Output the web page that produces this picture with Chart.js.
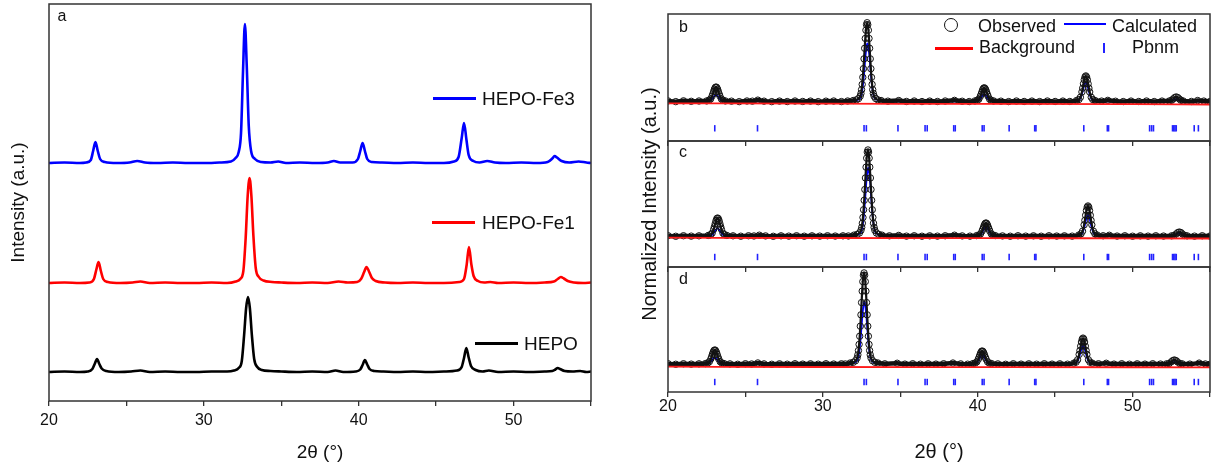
<!DOCTYPE html>
<html><head><meta charset="utf-8">
<script src="https://cdn.jsdelivr.net/npm/chart.js@4.4.1/dist/chart.umd.min.js"></script>
<style>
html,body{margin:0;padding:0;background:#fff;}
body{width:1217px;height:468px;position:relative;overflow:hidden;font-family:"Liberation Sans",Arial,sans-serif;color:#111;}
canvas{position:absolute;}
.t{position:absolute;white-space:nowrap;color:#111;}
.ln{position:absolute;}
</style></head><body>
<canvas id="ca" width="610" height="468" style="left:0px;top:0px;width:610px;height:468px"></canvas>
<canvas id="cb" width="597" height="468" style="left:620px;top:0px;width:597px;height:468px"></canvas>
<canvas id="cc" width="597" height="468" style="left:620px;top:0px;width:597px;height:468px"></canvas>
<canvas id="cd" width="597" height="468" style="left:620px;top:0px;width:597px;height:468px"></canvas>

<div class="t" style="left:57.5px;top:8px;font-size:16px;line-height:16px">a</div>
<div class="ln" style="left:433px;top:96.5px;width:43px;height:3px;background:#0000ff"></div>
<div class="t" style="left:482px;top:88.5px;font-size:19px;line-height:19px">HEPO-Fe3</div>
<div class="ln" style="left:432px;top:220.5px;width:43px;height:3px;background:#ff0000"></div>
<div class="t" style="left:482px;top:212.5px;font-size:19px;line-height:19px">HEPO-Fe1</div>
<div class="ln" style="left:475px;top:341.5px;width:43px;height:3px;background:#000"></div>
<div class="t" style="left:524px;top:333.5px;font-size:19px;line-height:19px">HEPO</div>

<div class="t" style="left:679px;top:19px;font-size:16px;line-height:16px">b</div>
<div class="t" style="left:679px;top:143.5px;font-size:16px;line-height:16px">c</div>
<div class="t" style="left:679px;top:270.5px;font-size:16px;line-height:16px">d</div>

<div class="ln" style="left:944px;top:18px;width:14px;height:14px;box-sizing:border-box;border:1.3px solid #111;border-radius:50%"></div>
<div class="t" style="left:978px;top:17px;font-size:18px;line-height:18px">Observed</div>
<div class="ln" style="left:1064px;top:23px;width:42px;height:2px;background:#0000ff"></div>
<div class="t" style="left:1112px;top:17px;font-size:18px;line-height:18px">Calculated</div>
<div class="ln" style="left:935px;top:47px;width:38px;height:2.5px;background:#ff0000"></div>
<div class="t" style="left:979px;top:37.7px;font-size:18px;line-height:18px">Background</div>
<div class="ln" style="left:1103px;top:43px;width:2px;height:10px;background:#2222ff"></div>
<div class="t" style="left:1132px;top:37.7px;font-size:18px;line-height:18px">Pbnm</div>

<script>
// ---------- data: panel a (offset intensities, a.u.) ----------
const xTicks = [20, 25, 30, 35, 40, 45, 50, 55];
const xTickLabels = ['20', '', '30', '', '40', '', '50', ''];

const hepo = [[20,29],[21,29.5],[22,29],[22.5,29.5],[22.8,32],[22.95,37],[23.1,42],[23.25,37],[23.4,32.5],[23.7,30],[24.5,29],[25.3,29.5],[25.9,30.5],[26.5,29],[27.5,29.5],[28.5,29],[29.5,29],[30.5,29.5],[31.5,29.5],[31.95,30.5],[32.25,33],[32.45,40],[32.6,66],[32.73,93],[32.85,104],[32.97,93],[33.1,66],[33.25,42],[33.45,34],[33.75,31],[34.3,30],[35,29.5],[36,29],[37,29.5],[38,29],[38.5,30.5],[39,29],[39.8,29.5],[40.1,31.5],[40.25,36],[40.4,41],[40.55,36.5],[40.7,32],[41,30],[41.6,29.5],[42.5,29],[43.5,29.5],[44.5,29],[45.5,29.5],[46.35,30.5],[46.65,34],[46.8,43],[46.95,53],[47.1,43.5],[47.25,35],[47.55,31],[48,29.5],[48.4,30.5],[49,29],[50,29.5],[51,29],[52,29.5],[52.5,30],[52.7,31.5],[52.85,33],[53,32],[53.3,30],[53.8,29.5],[54.3,30],[54.7,29],[55,29.5]];

const hepoFe1 = [[20,118],[21,118.5],[22,118],[22.6,118.5],[22.9,122],[23.05,131],[23.2,139],[23.35,130],[23.5,122],[23.8,119],[24.6,118],[25.4,118.5],[25.9,119.5],[26.5,118],[27.5,118.5],[28.5,118],[29.5,118],[30.5,118.5],[31.5,118],[32.05,119.5],[32.35,122],[32.55,130],[32.7,163],[32.83,205],[32.95,223],[33.07,205],[33.2,165],[33.35,133],[33.55,124],[33.85,120.5],[34.4,119],[35,118.5],[36,118],[37,118.5],[38,118],[38.7,119.5],[39.3,118.5],[39.9,119],[40.15,122],[40.35,129],[40.5,134],[40.65,130],[40.85,123],[41.1,120],[41.7,118.5],[42.5,118],[43.5,118.5],[44.5,118],[45.5,118],[46.5,119],[46.8,122],[46.97,136],[47.12,154],[47.27,137],[47.42,125],[47.7,120],[48.1,118.5],[48.5,119],[49,118],[50,118.5],[51,118],[52,118.5],[52.6,119.5],[52.85,122],[53.05,124],[53.25,122.5],[53.5,120],[53.9,118.5],[54.5,118],[55,118.5]];

const hepoFe3 = [[20,238],[21,238.5],[22,238],[22.4,238.5],[22.7,241],[22.85,250],[23.0,259],[23.15,250],[23.3,242],[23.6,239],[24.4,238],[25.2,238.5],[25.7,240],[26.2,238.5],[27,238],[28,238.5],[29,238],[30,238],[31,238.5],[31.75,239.5],[32.05,243],[32.25,249],[32.4,268],[32.53,330],[32.65,377],[32.77,335],[32.9,275],[33.05,250],[33.3,242],[33.7,239],[34.3,238.5],[34.8,239.5],[35.3,238],[36.2,238.5],[37.2,238],[38.0,238.5],[38.4,240],[38.8,238.5],[39.6,238.5],[39.95,242],[40.1,250],[40.25,258],[40.4,250],[40.55,242],[40.85,239],[41.5,238.5],[42.5,238],[43.5,238.5],[44.5,238],[45.5,238],[46.15,239.5],[46.45,244],[46.65,263],[46.8,278],[46.95,262],[47.1,246],[47.4,240],[47.8,238.5],[48.3,240],[48.8,238.5],[49.5,238],[50.5,238.5],[51.5,238],[52.2,239],[52.5,242.5],[52.65,245],[52.8,243.5],[53.1,240],[53.6,238.5],[54.2,239.5],[54.7,238.5],[55,238]];

// ---------- data: panels b, c, d (normalized intensity) ----------
const obsB = [[20,0.005],[20.5,-0.004],[21,0.006],[21.5,0],[22,0.004],
[22.5,0.005],[22.65,0.013],[22.75,0.029],[22.85,0.067],[22.9,0.094],[22.95,0.124],[23.0,0.153],[23.05,0.173],[23.1,0.18],[23.15,0.173],[23.2,0.153],[23.25,0.124],[23.3,0.094],[23.35,0.067],[23.45,0.029],[23.55,0.013],[23.7,0.005],
[24.1,0.002],[24.6,-0.004],[25.1,0.004],[25.45,0.002],[25.8,0.015],[26.2,0.002],[26.7,-0.004],[27.2,0.003],[27.7,-0.003],[28.2,0.004],[28.7,-0.002],[29.2,0.003],[29.7,-0.004],[30.2,0.002],[30.7,0.004],[31.2,-0.003],[31.6,0.004],
[31.96,0.01],[32.16,0.018],[32.31,0.035],[32.41,0.064],[32.46,0.099],[32.5,0.147],[32.54,0.213],[32.58,0.302],[32.62,0.411],[32.66,0.535],[32.7,0.668],[32.74,0.792],[32.78,0.896],[32.82,0.965],[32.86,0.99],[32.9,0.965],[32.94,0.896],[32.98,0.792],[33.02,0.668],[33.06,0.535],[33.1,0.411],[33.14,0.302],[33.18,0.213],[33.22,0.147],[33.26,0.099],[33.31,0.064],[33.41,0.035],[33.56,0.018],[33.76,0.01],
[34.2,0.002],[34.9,0.01],[35.4,-0.002],[35.9,0.004],[36.4,-0.003],[36.9,0.003],[37.4,-0.002],[37.9,0.004],[38.5,0.012],[39.0,0.001],[39.45,-0.003],
[39.82,0.005],[39.97,0.012],[40.07,0.027],[40.17,0.063],[40.22,0.088],[40.27,0.117],[40.32,0.145],[40.37,0.163],[40.42,0.17],[40.47,0.163],[40.52,0.145],[40.57,0.117],[40.62,0.088],[40.67,0.063],[40.77,0.027],[40.87,0.012],[41.02,0.005],
[41.5,0.002],[42.0,-0.003],[42.5,0.004],[43.0,-0.002],[43.5,0.003],[44.0,-0.003],[44.5,0.004],[45.0,-0.002],[45.5,0.003],[45.95,-0.002],
[46.38,0.01],[46.53,0.022],[46.63,0.051],[46.73,0.118],[46.78,0.166],[46.83,0.221],[46.88,0.272],[46.93,0.307],[46.98,0.32],[47.03,0.307],[47.08,0.272],[47.13,0.221],[47.18,0.166],[47.23,0.118],[47.33,0.051],[47.43,0.022],[47.58,0.01],
[48.0,0.003],[48.4,0.012],[48.9,0.001],[49.4,-0.003],[49.9,0.003],[50.4,-0.002],[50.9,0.004],[51.4,-0.003],[51.9,0.003],
[52.37,0.004],[52.52,0.013],[52.62,0.029],[52.72,0.047],[52.82,0.055],[52.92,0.047],[53.02,0.029],[53.12,0.013],[53.27,0.004],
[53.8,-0.002],[54.2,0.01],[54.6,0.003],[55,-0.002]];

const calcB = [[20,0],[22.3,0],[22.5,0.002],[22.65,0.006],[22.75,0.013],[22.85,0.03],[22.95,0.055],[23.05,0.077],[23.1,0.08],[23.15,0.077],[23.25,0.055],[23.35,0.03],[23.45,0.013],[23.55,0.006],[23.7,0.002],[24.0,0],
[31.7,0],[32.0,0.007],[32.18,0.013],[32.33,0.026],[32.43,0.047],[32.52,0.108],[32.6,0.223],[32.68,0.394],[32.76,0.584],[32.84,0.712],[32.88,0.73],[32.92,0.712],[33.0,0.584],[33.08,0.394],[33.16,0.223],[33.24,0.108],[33.33,0.047],[33.43,0.026],[33.6,0.013],[33.8,0.007],[34.2,0],
[39.6,0],[39.82,0.003],[39.97,0.006],[40.07,0.014],[40.17,0.033],[40.27,0.062],[40.37,0.086],[40.42,0.09],[40.47,0.086],[40.57,0.062],[40.67,0.033],[40.77,0.014],[40.87,0.006],[41.02,0.003],[41.3,0],
[46.1,0],[46.38,0.007],[46.53,0.017],[46.63,0.038],[46.73,0.089],[46.83,0.166],[46.93,0.23],[46.98,0.24],[47.03,0.23],[47.13,0.166],[47.23,0.089],[47.33,0.038],[47.43,0.017],[47.58,0.007],[47.9,0],
[52.2,0],[52.42,0.002],[52.57,0.011],[52.67,0.021],[52.77,0.029],[52.82,0.03],[52.87,0.029],[52.97,0.021],[53.07,0.011],[53.22,0.002],[53.5,0],[55,0]];

const bgB = [[20,-0.025],[30,-0.03],[40,-0.032],[50,-0.036],[55,-0.04]];

const obsC = [[20,-0.102],[20.5,-0.11],[21,-0.103],[21.5,-0.108],[22,-0.104],
[22.6,-0.099],[22.75,-0.09],[22.85,-0.07],[22.95,-0.022],[23.0,0.013],[23.05,0.051],[23.1,0.088],[23.15,0.113],[23.2,0.122],[23.25,0.113],[23.3,0.088],[23.35,0.051],[23.4,0.013],[23.45,-0.022],[23.55,-0.07],[23.65,-0.09],[23.8,-0.099],
[24.2,-0.104],[24.7,-0.109],[25.2,-0.103],[25.55,-0.106],[25.9,-0.096],[26.3,-0.105],[26.8,-0.11],[27.3,-0.104],[27.8,-0.108],[28.3,-0.103],[28.8,-0.109],[29.3,-0.104],[29.8,-0.108],[30.3,-0.103],[30.8,-0.107],[31.3,-0.104],[31.65,-0.106],
[32.01,-0.095],[32.21,-0.086],[32.36,-0.068],[32.46,-0.035],[32.51,0.003],[32.55,0.056],[32.59,0.129],[32.63,0.227],[32.67,0.347],[32.71,0.484],[32.75,0.631],[32.79,0.768],[32.83,0.882],[32.87,0.959],[32.91,0.986],[32.95,0.959],[32.99,0.882],[33.03,0.768],[33.07,0.631],[33.11,0.484],[33.15,0.347],[33.19,0.227],[33.23,0.129],[33.27,0.056],[33.31,0.003],[33.36,-0.035],[33.46,-0.068],[33.61,-0.086],[33.81,-0.095],
[34.3,-0.104],[34.9,-0.099],[35.4,-0.108],[35.9,-0.103],[36.4,-0.109],[36.9,-0.104],[37.4,-0.108],[37.9,-0.103],[38.5,-0.096],[39.0,-0.105],[39.5,-0.108],
[39.93,-0.101],[40.08,-0.094],[40.18,-0.08],[40.28,-0.045],[40.33,-0.02],[40.38,0.008],[40.43,0.034],[40.48,0.052],[40.53,0.059],[40.58,0.052],[40.63,0.034],[40.68,0.008],[40.73,-0.02],[40.78,-0.045],[40.88,-0.08],[40.98,-0.094],[41.13,-0.101],
[41.6,-0.105],[42.1,-0.109],[42.6,-0.103],[43.1,-0.108],[43.6,-0.104],[44.1,-0.109],[44.6,-0.103],[45.1,-0.107],[45.6,-0.104],[46.1,-0.108],
[46.52,-0.095],[46.67,-0.079],[46.77,-0.045],[46.87,0.035],[46.92,0.092],[46.97,0.157],[47.02,0.218],[47.07,0.26],[47.12,0.275],[47.17,0.26],[47.22,0.218],[47.27,0.157],[47.32,0.092],[47.37,0.035],[47.47,-0.045],[47.57,-0.079],[47.72,-0.095],
[48.1,-0.103],[48.5,-0.097],[49.0,-0.107],[49.5,-0.103],[50.0,-0.109],[50.5,-0.104],[51.0,-0.108],[51.5,-0.103],[52.0,-0.107],
[52.52,-0.104],[52.67,-0.1],[52.82,-0.08],[52.92,-0.063],[53.02,-0.056],[53.12,-0.063],[53.22,-0.08],[53.37,-0.1],[53.52,-0.104],
[54.0,-0.108],[54.5,-0.103],[55,-0.107]];

const calcC = [[20,-0.106],[22.4,-0.106],[22.6,-0.103],[22.75,-0.099],[22.85,-0.09],[22.95,-0.07],[23.05,-0.039],[23.15,-0.013],[23.2,-0.009],[23.25,-0.013],[23.35,-0.039],[23.45,-0.07],[23.55,-0.09],[23.65,-0.099],[23.8,-0.103],[24.1,-0.106],
[31.8,-0.106],[32.03,-0.097],[32.23,-0.09],[32.38,-0.076],[32.48,-0.05],[32.57,0.022],[32.65,0.157],[32.73,0.36],[32.81,0.584],[32.89,0.735],[32.93,0.757],[32.97,0.735],[33.05,0.584],[33.13,0.36],[33.21,0.157],[33.29,0.022],[33.38,-0.05],[33.48,-0.076],[33.63,-0.09],[33.83,-0.097],[34.2,-0.106],
[39.7,-0.106],[39.93,-0.103],[40.08,-0.098],[40.18,-0.088],[40.28,-0.064],[40.38,-0.027],[40.48,0.003],[40.53,0.008],[40.58,0.003],[40.68,-0.027],[40.78,-0.064],[40.88,-0.088],[40.98,-0.098],[41.13,-0.103],[41.4,-0.106],
[46.3,-0.106],[46.52,-0.098],[46.67,-0.087],[46.77,-0.063],[46.87,-0.008],[46.97,0.078],[47.07,0.149],[47.12,0.16],[47.17,0.149],[47.27,0.078],[47.37,-0.008],[47.47,-0.063],[47.57,-0.087],[47.72,-0.098],[48.0,-0.106],
[52.4,-0.106],[52.62,-0.104],[52.77,-0.092],[52.87,-0.08],[52.97,-0.07],[53.02,-0.068],[53.07,-0.07],[53.17,-0.08],[53.27,-0.092],[53.42,-0.104],[53.7,-0.106],[55,-0.106]];

const bgC = [[20,-0.128],[30,-0.132],[40,-0.133],[50,-0.136],[55,-0.138]];

const obsD = [[20,-0.137],[20.5,-0.145],[21,-0.138],[21.5,-0.143],[22,-0.139],
[22.42,-0.136],[22.57,-0.128],[22.67,-0.112],[22.77,-0.075],[22.82,-0.048],[22.87,-0.017],[22.92,0.011],[22.97,0.031],[23.02,0.038],[23.07,0.031],[23.12,0.011],[23.17,-0.017],[23.22,-0.048],[23.27,-0.075],[23.37,-0.112],[23.47,-0.128],[23.62,-0.136],
[24.0,-0.14],[24.5,-0.145],[25.0,-0.138],[25.4,-0.141],[25.8,-0.128],[26.2,-0.14],[26.7,-0.145],[27.2,-0.139],[27.7,-0.144],[28.2,-0.138],[28.7,-0.143],[29.2,-0.139],[29.7,-0.144],[30.2,-0.138],[30.7,-0.142],[31.2,-0.139],[31.45,-0.141],
[31.76,-0.129],[31.96,-0.12],[32.11,-0.1],[32.21,-0.065],[32.26,-0.024],[32.3,0.031],[32.34,0.109],[32.38,0.214],[32.42,0.342],[32.46,0.488],[32.5,0.645],[32.54,0.791],[32.58,0.913],[32.62,0.995],[32.66,1.024],[32.7,0.995],[32.74,0.913],[32.78,0.791],[32.82,0.645],[32.86,0.488],[32.9,0.342],[32.94,0.214],[32.98,0.109],[33.02,0.031],[33.06,-0.024],[33.11,-0.065],[33.21,-0.1],[33.36,-0.12],[33.56,-0.129],
[34.0,-0.139],[34.8,-0.132],[35.3,-0.143],[35.8,-0.138],[36.3,-0.144],[36.8,-0.139],[37.3,-0.143],[37.8,-0.138],[38.4,-0.129],[38.9,-0.14],[39.35,-0.144],
[39.69,-0.136],[39.84,-0.129],[39.94,-0.114],[40.04,-0.08],[40.09,-0.055],[40.14,-0.026],[40.19,0.0],[40.24,0.018],[40.29,0.025],[40.34,0.018],[40.39,0.0],[40.44,-0.026],[40.49,-0.055],[40.54,-0.08],[40.64,-0.114],[40.74,-0.129],[40.89,-0.136],
[41.3,-0.14],[41.8,-0.145],[42.3,-0.138],[42.8,-0.143],[43.3,-0.139],[43.8,-0.144],[44.3,-0.138],[44.8,-0.143],[45.3,-0.139],[45.8,-0.144],
[46.2,-0.131],[46.35,-0.118],[46.45,-0.088],[46.55,-0.019],[46.6,0.031],[46.65,0.087],[46.7,0.14],[46.75,0.177],[46.8,0.19],[46.85,0.177],[46.9,0.14],[46.95,0.087],[47.0,0.031],[47.05,-0.019],[47.15,-0.088],[47.25,-0.118],[47.4,-0.131],
[47.8,-0.138],[48.3,-0.132],[48.8,-0.143],[49.3,-0.138],[49.8,-0.144],[50.3,-0.139],[50.8,-0.143],[51.3,-0.138],[51.8,-0.142],
[52.2,-0.139],[52.35,-0.137],[52.5,-0.114],[52.6,-0.098],[52.7,-0.09],[52.8,-0.098],[52.9,-0.114],[53.05,-0.137],[53.2,-0.139],
[53.7,-0.143],[54.3,-0.13],[54.7,-0.141],[55,-0.144]];

const calcD = [[20,-0.141],[22.2,-0.141],[22.42,-0.139],[22.57,-0.135],[22.67,-0.128],[22.77,-0.111],[22.87,-0.085],[22.97,-0.063],[23.02,-0.06],[23.07,-0.063],[23.17,-0.085],[23.27,-0.111],[23.37,-0.128],[23.47,-0.135],[23.62,-0.139],[24.0,-0.141],
[31.5,-0.141],[31.78,-0.133],[31.98,-0.127],[32.13,-0.113],[32.23,-0.089],[32.32,-0.024],[32.4,0.101],[32.48,0.287],[32.56,0.493],[32.64,0.632],[32.68,0.652],[32.72,0.632],[32.8,0.493],[32.88,0.287],[32.96,0.101],[33.04,-0.024],[33.13,-0.089],[33.23,-0.113],[33.38,-0.127],[33.58,-0.133],[34.0,-0.141],
[39.5,-0.141],[39.69,-0.138],[39.84,-0.133],[39.94,-0.123],[40.04,-0.098],[40.14,-0.062],[40.24,-0.031],[40.29,-0.026],[40.34,-0.031],[40.44,-0.062],[40.54,-0.098],[40.64,-0.123],[40.74,-0.133],[40.89,-0.138],[41.2,-0.141],
[45.9,-0.141],[46.2,-0.134],[46.35,-0.125],[46.45,-0.104],[46.55,-0.056],[46.65,0.018],[46.75,0.081],[46.8,0.09],[46.85,0.081],[46.95,0.018],[47.05,-0.056],[47.15,-0.104],[47.25,-0.125],[47.4,-0.134],[47.7,-0.141],
[52.0,-0.141],[52.3,-0.14],[52.45,-0.132],[52.55,-0.124],[52.65,-0.117],[52.7,-0.116],[52.75,-0.117],[52.85,-0.124],[52.95,-0.132],[53.1,-0.14],[55,-0.141]];

const bgD = [[20,-0.176],[30,-0.18],[40,-0.181],[50,-0.183],[55,-0.185]];

// Pbnm reflection positions (2θ) and the row level in each sub-panel
const braggPos = [23.02,25.78,32.66,32.81,34.85,36.60,36.74,38.45,38.55,40.29,40.41,42.03,43.68,43.76,46.85,48.37,48.45,51.10,51.23,51.35,52.58,52.66,52.74,52.82,53.98,54.25];
const braggRow = [-0.34, -0.373, -0.372];

// ---------- rendering ----------
Chart.defaults.font.family = '"Liberation Sans", Arial, sans-serif';
Chart.defaults.color = '#111';

const toXY = arr => arr.map(p => ({x: p[0], y: p[1]}));

const framePlugin = {
  id: 'frame',
  afterDatasetsDraw(chart) {
    const {ctx, chartArea: a} = chart;
    ctx.save();
    ctx.strokeStyle = '#333';
    ctx.lineWidth = 1.5;
    ctx.strokeRect(a.left, a.top, a.right - a.left, a.bottom - a.top);
    ctx.restore();
  }
};

function opts(o) {
  return {
    responsive: false, animation: false, devicePixelRatio: 1, events: [],
    layout: {padding: o.padding},
    plugins: {legend: {display: false}, tooltip: {enabled: false}},
    scales: {
      x: {
        type: 'linear', min: 20, max: 55,
        afterBuildTicks: s => { s.ticks = xTicks.map(v => ({value: v})); },
        afterFit: s => { s.height = o.xHeight; },
        grid: {drawOnChartArea: false, drawTicks: true, tickLength: 5, color: '#333', lineWidth: 1.3},
        border: {display: false},
        ticks: {
          padding: o.labelPad || 0, color: '#111', font: {size: 16}, maxRotation: 0, autoSkip: false,
          callback: v => o.xLabels ? (xTickLabels[xTicks.indexOf(v)] ?? '') : ''
        },
        title: o.xTitle ? {display: true, text: '2θ (°)', color: '#111', font: {size: o.xTitleSize}, padding: {top: 0, bottom: o.xTitlePad}} : {display: false}
      },
      y: {
        type: 'linear', min: o.yMin, max: o.yMax,
        afterFit: s => { s.width = o.yWidth; },
        grid: {display: false}, border: {display: false}, ticks: {display: false},
        title: o.yTitle ? {display: true, text: o.yTitle, color: '#111', font: {size: o.yTitleSize}, padding: {top: o.yTitlePad, bottom: 0}} : {display: false}
      }
    }
  };
}

function lineDS(label, pts, color, width, order) {
  return {label, data: toXY(pts), borderColor: color, borderWidth: width, pointRadius: 0,
          cubicInterpolationMode: 'monotone', fill: false, order};
}

// panel a
new Chart(document.getElementById('ca'), {
  type: 'line',
  data: {datasets: [
    lineDS('HEPO-Fe3', hepoFe3, '#0000ff', 2.6, 1),
    lineDS('HEPO-Fe1', hepoFe1, '#ff0000', 2.6, 2),
    lineDS('HEPO', hepo, '#000000', 2.6, 3)
  ]},
  options: opts({padding: {left: 0, top: 4, right: 19, bottom: 0}, yMin: 0, yMax: 397, yWidth: 49,
    yTitle: 'Intensity (a.u.)', yTitleSize: 19, yTitlePad: 7.4,
    xHeight: 67, xLabels: true, labelPad: 5, xTitle: true, xTitleSize: 19, xTitlePad: 4}),
  plugins: [framePlugin]
});

function refineDatasets(obs, calc, bg, row) {
  const thr = Math.min(...obs.map(p => p[1])) + 0.035;
  return [
    lineDS('Background', bg, '#ff1a1a', 1.8, 1),
    {label: 'Pbnm', data: braggPos.map(x => ({x, y: row})), showLine: false,
     pointStyle: 'line', pointRotation: 90, pointRadius: 3.2, pointBorderWidth: 1.6,
     pointBorderColor: '#2222ff', borderColor: '#2222ff', order: 2},
    {label: 'Observed', data: toXY(obs), borderColor: '#111', borderWidth: 2,
     segment: {borderWidth: ctx => (ctx.p0.parsed.y < thr && ctx.p1.parsed.y < thr) ? 4.5 : 2.2},
     pointRadius: 3.2, pointBorderWidth: 1, pointBorderColor: '#111', pointBackgroundColor: 'rgba(0,0,0,0)',
     pointStyle: 'circle', cubicInterpolationMode: 'monotone', fill: false, order: 3},
    lineDS('Calculated', calc, '#0000ff', 1.8, 4)
  ];
}

const subs = [
  {id: 'cb', obs: obsB, calc: calcB, bg: bgB, row: braggRow[0],
   o: {padding: {left: 0, top: 14, right: 7, bottom: 319}, xHeight: 8, xLabels: false}},
  {id: 'cc', obs: obsC, calc: calcC, bg: bgC, row: braggRow[1],
   o: {padding: {left: 0, top: 141, right: 7, bottom: 193}, xHeight: 8, xLabels: false,
       yTitle: 'Normalized Intensity (a.u.)', yTitleSize: 20, yTitlePad: 18}},
  {id: 'cd', obs: obsD, calc: calcD, bg: bgD, row: braggRow[2],
   o: {padding: {left: 0, top: 267, right: 7, bottom: 0}, xHeight: 76, xLabels: true, labelPad: 0,
       xTitle: true, xTitleSize: 20, xTitlePad: 4}}
];

subs.forEach(s => {
  new Chart(document.getElementById(s.id), {
    type: 'line',
    data: {datasets: refineDatasets(s.obs, s.calc, s.bg, s.row)},
    options: opts(Object.assign({yMin: -0.5, yMax: 1.1, yWidth: 48}, s.o)),
    plugins: [framePlugin]
  });
});
</script>
</body></html>
